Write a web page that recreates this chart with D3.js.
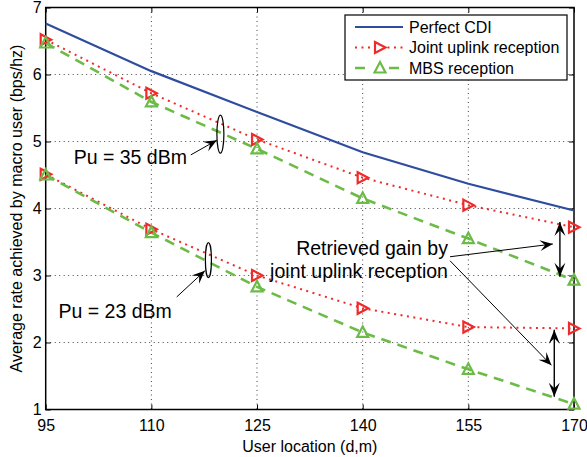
<!DOCTYPE html>
<html>
<head>
<meta charset="utf-8">
<script src="https://cdn.jsdelivr.net/npm/d3@7"></script>
<style>
  body{margin:0;background:#fff;}
  text{font-family:"Liberation Sans",Arial,Helvetica,sans-serif;fill:#000;}
</style>
</head>
<body>
<div id="chart"></div>
<script>
// data
var locations = [95, 110, 125, 140, 155, 170];
var perfectCDI = [6.76, 6.05, 5.44, 4.84, 4.37, 3.97];
var joint35 = [6.52, 5.72, 5.03, 4.46, 4.05, 3.72];
var mbs35 = [6.47, 5.59, 4.89, 4.15, 3.55, 2.93];
var joint23 = [4.51, 3.69, 3.00, 2.51, 2.23, 2.21];
var mbs23 = [4.50, 3.64, 2.83, 2.15, 1.60, 1.08];
var xTicks = [95, 110, 125, 140, 155, 170];
var yTicks = [1, 2, 3, 4, 5, 6, 7];
var seriesNames = ["Perfect CDI", "Joint uplink reception", "MBS reception"];

!function(){
  var svgWidth = 587, svgHeight = 457;
  var margin = {top: 7.5, right: 13, bottom: 47.5, left: 45.7};
  var width = svgWidth - margin.left - margin.right,
      height = svgHeight - margin.top - margin.bottom;

  var blue = "#2e4d9f", red = "#ee2b2b", green = "#6cbb46";

  var svg = d3.select("#chart").append("svg")
    .attr("width", svgWidth).attr("height", svgHeight);
  var g = svg.append("g").attr("transform",
    "translate(" + margin.left + "," + margin.top + ")");

  var x = d3.scaleLinear().domain([95, 170]).range([0, width]),
      y = d3.scaleLinear().domain([1, 7]).range([height, 0]);

  // grid (matlab style dotted)
  g.append("g").selectAll("line").data(xTicks.slice(1, -1)).enter().append("line")
    .attr("x1", function(d){ return x(d); }).attr("x2", function(d){ return x(d); })
    .attr("y1", 0).attr("y2", height)
    .attr("stroke", "#444").attr("stroke-width", 1).attr("stroke-dasharray", "1,3.5");
  g.append("g").selectAll("line").data(yTicks.slice(1, -1)).enter().append("line")
    .attr("y1", function(d){ return y(d); }).attr("y2", function(d){ return y(d); })
    .attr("x1", 0).attr("x2", width)
    .attr("stroke", "#444").attr("stroke-width", 1).attr("stroke-dasharray", "1,3.5");

  // axes, ticks pointing in, on all four sides
  function styleAxis(sel){
    sel.select(".domain").remove();
    sel.selectAll(".tick line").attr("stroke", "#000").attr("stroke-width", 1);
    sel.selectAll(".tick text").style("font-size", "16px");
  }
  g.append("g").attr("transform", "translate(0," + height + ")")
    .call(d3.axisBottom(x).tickValues(xTicks).tickSize(-5).tickPadding(10).tickFormat(d3.format("d")))
    .call(styleAxis);
  g.append("g")
    .call(d3.axisLeft(y).tickValues(yTicks).tickSize(-5).tickPadding(4).tickFormat(d3.format("d")))
    .call(styleAxis);
  g.append("g")
    .call(d3.axisTop(x).tickValues(xTicks).tickSize(-5).tickFormat(""))
    .call(styleAxis);
  g.append("g").attr("transform", "translate(" + width + ",0)")
    .call(d3.axisRight(y).tickValues(yTicks).tickSize(-5).tickFormat(""))
    .call(styleAxis);
  g.append("rect").attr("width", width).attr("height", height)
    .attr("fill", "none").attr("stroke", "#000").attr("stroke-width", 1.5);

  // axis titles
  svg.append("text").attr("x", margin.left + width / 2).attr("y", 446)
    .attr("text-anchor", "middle").attr("dominant-baseline", "central")
    .style("font-size", "16px").text("User location (d,m)");
  svg.append("text").attr("transform", "translate(16," + (margin.top + height / 2) + ") rotate(-90)")
    .attr("text-anchor", "middle").attr("dominant-baseline", "central")
    .style("font-size", "16px").text("Average rate achieved by macro user (bps/hz)");

  var line = d3.line()
    .x(function(d, i){ return x(locations[i]); })
    .y(function(d){ return y(d); });

  var triRight = "M-5,-5.5L5.5,0L-5,5.5Z",
      triUp = "M-5.5,4.5L0,-6L5.5,4.5Z";

  var styles = [
    {color: blue, dash: null, w: 2.2, marker: null},
    {color: red, dash: "2,4.5", w: 2, marker: triRight},
    {color: green, dash: "10,7", w: 2.6, marker: triUp}
  ];
  var series = [
    {vals: perfectCDI, s: 0},
    {vals: joint35, s: 1}, {vals: mbs35, s: 2},
    {vals: joint23, s: 1}, {vals: mbs23, s: 2}
  ];

  // draw lines first, then markers on top
  series.forEach(function(sr){
    var st = styles[sr.s];
    g.append("path").datum(sr.vals).attr("d", line)
      .attr("fill", "none").attr("stroke", st.color)
      .attr("stroke-width", st.w).attr("stroke-dasharray", st.dash);
  });
  series.forEach(function(sr){
    var st = styles[sr.s];
    if (!st.marker) return;
    g.append("g").selectAll("path").data(sr.vals).enter().append("path")
      .attr("d", st.marker)
      .attr("transform", function(d, i){ return "translate(" + x(locations[i]) + "," + y(d) + ")"; })
      .attr("fill", "none").attr("stroke", st.color).attr("stroke-width", 2.2);
  });

  // annotations (in data units)
  var ann = g.append("g");
  function arrowHead(x1, y1, x2, y2, len, wid){
    var a = Math.atan2(y2 - y1, x2 - x1), c = Math.cos(a), s = Math.sin(a);
    function p(u, v){ return (x2 + u * c - v * s) + "," + (y2 + u * s + v * c); }
    ann.append("path")
      .attr("d", "M" + p(0, 0) + "L" + p(-len, -wid / 2) + "L" + p(-len * 0.6, 0) + "L" + p(-len, wid / 2) + "Z")
      .attr("fill", "#000");
  }
  function arrow(a, b, len, wid, sw, both){
    var x1 = x(a[0]), y1 = y(a[1]), x2 = x(b[0]), y2 = y(b[1]);
    ann.append("line").attr("x1", x1).attr("y1", y1).attr("x2", x2).attr("y2", y2)
      .attr("stroke", "#000").attr("stroke-width", sw);
    arrowHead(x1, y1, x2, y2, len, wid);
    if (both) arrowHead(x2, y2, x1, y1, len, wid);
  }
  function ellipse(c, rx, ry){
    ann.append("ellipse").attr("cx", x(c[0])).attr("cy", y(c[1]))
      .attr("rx", rx).attr("ry", ry)
      .attr("fill", "none").attr("stroke", "#000").attr("stroke-width", 1.2);
  }
  function label(p, lines, anchor){
    var t = ann.append("text").attr("text-anchor", anchor).style("font-size", "19.5px");
    lines.forEach(function(l, i){
      t.append("tspan").attr("x", x(p[0])).attr("y", y(p[1]) + i * 22.5)
        .attr("dominant-baseline", "central").text(l);
    });
  }

  ellipse([119.8, 5.11], 3.5, 19);
  arrow([115.6, 4.80], [119.3, 5.02], 13, 11, 1, false);
  label([115.05, 4.77], ["Pu = 35 dBm"], "end");

  ellipse([118.1, 3.23], 3, 17.5);
  arrow([113.6, 2.68], [117.6, 3.07], 13, 11, 1, false);
  label([112.9, 2.47], ["Pu = 23 dBm"], "end");

  label([152.1, 3.41], ["Retrieved gain by", "joint uplink reception"], "end");
  arrow([152.4, 3.28], [167.0, 3.47], 13, 11, 1, false);
  arrow([152.4, 3.22], [166.8, 1.66], 13, 11, 1, false);
  arrow([168.0, 3.80], [168.0, 2.98], 14, 11, 1.4, true);
  arrow([167.2, 2.19], [167.2, 1.19], 14, 11, 1.4, true);

  // legend
  var lg = svg.append("g").attr("transform", "translate(345,15)");
  lg.append("rect").attr("width", 222).attr("height", 65)
    .attr("fill", "#fff").attr("stroke", "#000").attr("stroke-width", 1.2);
  seriesNames.forEach(function(name, i){
    var st = styles[i], yy = 12 + i * 20.5;
    var row = lg.append("g").attr("transform", "translate(0," + yy + ")");
    row.append("line").attr("x1", 10).attr("x2", 58).attr("y1", 0).attr("y2", 0)
      .attr("stroke", st.color).attr("stroke-width", st.w).attr("stroke-dasharray", st.dash);
    if (st.marker) {
      row.append("rect").attr("x", 27).attr("y", -7).attr("width", 15).attr("height", 14).attr("fill", "#fff");
      row.append("path").attr("d", st.marker).attr("transform", "translate(35,0)")
        .attr("fill", "none").attr("stroke", st.color).attr("stroke-width", 2.2);
    }
    row.append("text").attr("x", 64).attr("y", 0).attr("dominant-baseline", "central")
      .style("font-size", "16px").text(name);
  });
}();
</script>
</body>
</html>
